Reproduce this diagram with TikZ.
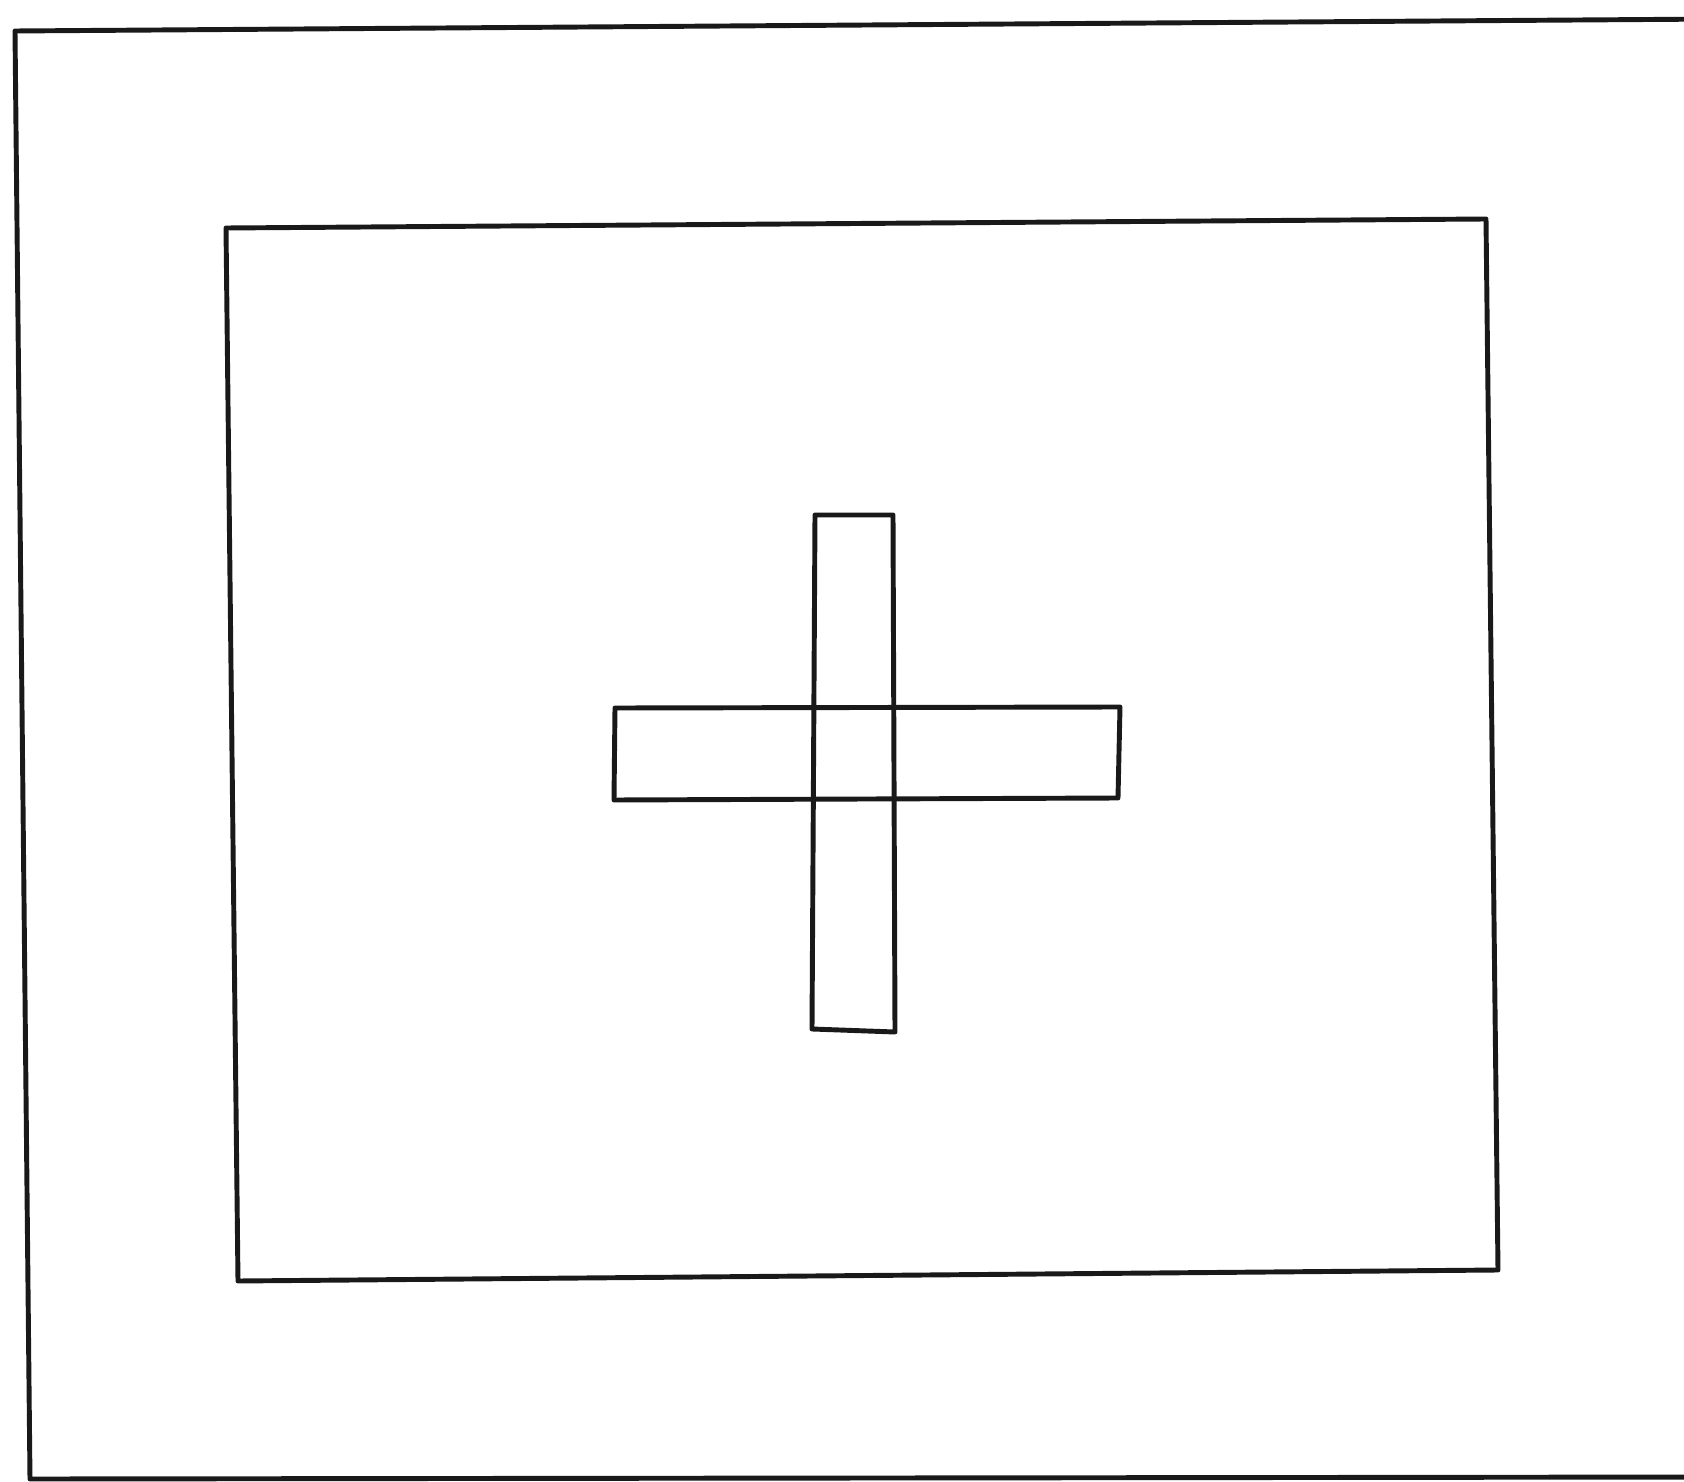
\documentclass[tikz,border=0pt]{standalone}
\usepackage{tikz}

\begin{document}
\begin{tikzpicture}[
  x=0.01cm, y=-0.01cm,
  pen/.style={line width=1.4pt, line join=round, line cap=round, black!90}
]
\useasboundingbox (0,0) rectangle (1684,1482);

% outer frame (runs off the page on the right and at the bottom)
\draw[pen] (15,31) -- (1720,19) -- (1720,1477) -- (30,1479) -- cycle;

% inner frame
\draw[pen] (226,228) -- (1486,219) -- (1498,1270) -- (238,1281) -- cycle;

% cross: upright bar and cross bar
\draw[pen] (815,515) -- (893,515) -- (895,1032) -- (812,1029) -- cycle;
\draw[pen] (615,708) -- (1120,707) -- (1118,798) -- (614,800) -- cycle;
\end{tikzpicture}
\end{document}
